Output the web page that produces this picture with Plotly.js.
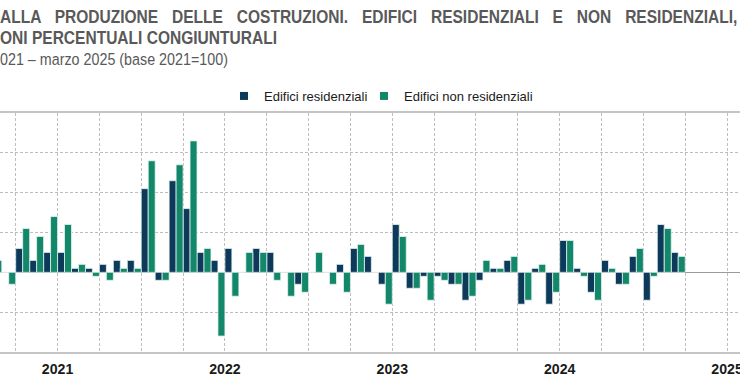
<!DOCTYPE html>
<html>
<head>
<meta charset="utf-8">
<script src="https://cdn.plot.ly/plotly-3.0.1.min.js"></script>
<style>
  html, body { margin: 0; padding: 0; background: #ffffff; }
  #chart { width: 740px; height: 389px; }
</style>
</head>
<body>
<div id="chart"></div>
<script>
// ---- data (month-on-month % changes, Jan 2021 - Mar 2025) ----
const monthNames = ['gen','feb','mar','apr','mag','giu','lug','ago','set','ott','nov','dic'];
const years = ['2021','2022','2023','2024','2025'];
const categories = [];
years.forEach(y => monthNames.forEach(m => categories.push(m + ' ' + y)));
categories.length = 51; // gennaio 2021 - marzo 2025

const residenziali = [
  0.4, 0.3, 0.0, 1.2, 0.6, 1.0, 1.0, 0.2, 0.2, 0.4, 0.6, 0.6,
  4.2, -0.4, 4.6, 3.2, 1.0, 0.6, 1.2, 0.0, 1.2, 1.0, 0.0, -0.6,
  0.0, 0.0, 0.4, 1.2, 0.8, -0.6, 2.4, -0.8, -0.2, -0.2, -0.6, -1.4,
  -0.4, 0.2, 0.6, -1.6, 0.2, -1.6, 1.6, 0.2, -1.0, 0.6, -0.6, 0.8,
  -1.4, 2.4, 1.0
];
const nonResidenziali = [
  0.6, 0.6, -0.6, 2.2, 1.8, 2.8, 2.4, 0.4, -0.2, -0.4, 0.2, 0.2,
  5.6, -0.4, 5.4, 6.6, 1.2, -3.2, -1.2, 1.0, 1.0, -0.4, -1.2, -1.0,
  1.0, -0.6, -1.0, 1.4, 0.0, -1.6, 1.8, -0.8, -1.4, -0.4, -0.6, -1.2,
  0.6, 0.2, 0.8, -1.4, 0.4, -1.0, 1.6, -0.2, -1.4, 0.2, -0.6, 1.2,
  -0.2, 2.2, 0.8
];
const seriesNames = ['Edifici residenziali', 'Edifici non residenziali'];
const titleLines = [
  'ALLA PRODUZIONE DELLE COSTRUZIONI. EDIFICI RESIDENZIALI E NON RESIDENZIALI,',
  'ONI PERCENTUALI CONGIUNTURALI',
  '021 – marzo 2025 (base 2021=100)'
];

// ---- styling ----
const colRes = '#0d3a5b';
const colNon = '#12876a';
const gridCol = '#bdbdbd';

// font helpers (condensed look emulated with a horizontal scale when no narrow face exists)
const ctx = document.createElement('canvas').getContext('2d');
function tw(text, font) { ctx.font = font; return ctx.measureText(text).width; }
const fam = '"Liberation Sans", Arial, sans-serif';
const tSize = 18.5;       // glyph size of title lines
const baseSize = 16;      // sets the line spacing
const subSize = 17.5;
const kx = 277 / tw(titleLines[1], 'bold ' + tSize + 'px ' + fam);   // horizontal squeeze
const line1W = tw(titleLines[0], 'bold ' + tSize + 'px ' + fam);
const gaps = titleLines[0].split(' ').length - 1;
const wordSp = Math.max(0, (738 / kx - line1W) / gaps);
const subScale = 228 / (kx * tw(titleLines[2], subSize + 'px ' + fam));
const yearSize = 20 * 31.5 / tw('2021', 'bold 20px ' + fam);

const x = categories.map((_, i) => i);
const yearCenters = years.map((_, i) => i * 12 + 5.5);

const traces = [
  { type: 'bar', x: x, y: residenziali, name: seriesNames[0], hovertext: categories, hoverinfo: 'text+y',
    textposition: 'none',
    marker: { color: colRes, line: { color: 'rgba(235,246,243,0.95)', width: 0.8 } }, showlegend: false },
  { type: 'bar', x: x, y: nonResidenziali, name: seriesNames[1], hovertext: categories, hoverinfo: 'text+y',
    textposition: 'none',
    marker: { color: colNon, line: { color: 'rgba(235,246,243,0.95)', width: 0.8 } }, showlegend: false },
  { type: 'scatter', mode: 'markers', x: [null], y: [null], name: seriesNames[0], legendwidth: 95,
    marker: { symbol: 'square', size: 8, color: colRes } },
  { type: 'scatter', mode: 'markers', x: [null], y: [null], name: seriesNames[1],
    marker: { symbol: 'square', size: 8, color: colNon } }
];

const layout = {
  width: 740, height: 389,
  margin: { l: 0, r: 0, t: 113, b: 37, pad: 0 },
  paper_bgcolor: '#ffffff', plot_bgcolor: '#ffffff',
  barmode: 'group', bargap: 0, bargroupgap: 0,
  title: {
    text: '<b><span style="font-size:' + tSize + 'px;word-spacing:' + wordSp.toFixed(2) + 'px">' + titleLines[0] + '</span></b><br>' +
          '<b><span style="font-size:' + tSize + 'px">' + titleLines[1] + '</span></b><br>' +
          '<span style="font-size:' + (subSize * subScale).toFixed(2) + 'px">' + titleLines[2] + '</span>',
    font: { family: fam, size: baseSize, color: '#595959' },
    xref: 'paper', x: 0, xanchor: 'left',
    yref: 'container', y: 1 - 23 / 389, yanchor: 'top', pad: { t: 0, b: 0, l: 0, r: 0 }
  },
  showlegend: true,
  legend: {
    orientation: 'h', x: 224 / 740, xanchor: 'left', y: (352 - 96) / 239, yanchor: 'middle',
    font: { family: fam, size: 13, color: '#1a1a1a' }, bgcolor: 'rgba(0,0,0,0)', borderwidth: 0
  },
  xaxis: {
    type: 'linear', range: [1.374, 54.43], fixedrange: true,
    tickmode: 'array', tickvals: yearCenters, ticktext: years, ticks: '',
    ticklabeloverflow: 'allow', ticklabelstandoff: 3,
    tickfont: { family: fam, size: yearSize, color: '#1a1a1a', weight: 'bold' },
    showgrid: true, gridcolor: gridCol, griddash: '3px,2px', gridwidth: 1,
    minor: { tick0: -0.5, dtick: 3, showgrid: true, gridcolor: gridCol, griddash: '3px,2px', gridwidth: 1, ticks: '' },
    showline: true, mirror: true, linecolor: '#c4c4c4', linewidth: 2, zeroline: false
  },
  yaxis: {
    range: [-4, 8], dtick: 2, tick0: 0, fixedrange: true, showticklabels: false, ticks: '',
    showgrid: true, gridcolor: gridCol, griddash: '3px,2px', gridwidth: 1,
    zeroline: true, zerolinecolor: '#9b9b9b', zerolinewidth: 1.5, showline: false
  }
};

Plotly.newPlot('chart', traces, layout, { displayModeBar: false, staticPlot: true }).then(gd => {
  // condensed title lettering (Arial Narrow look)
  const t = gd.querySelector('.gtitle');
  if (t) t.setAttribute('transform', 'scale(' + kx.toFixed(4) + ',1)');
});
</script>
</body>
</html>
